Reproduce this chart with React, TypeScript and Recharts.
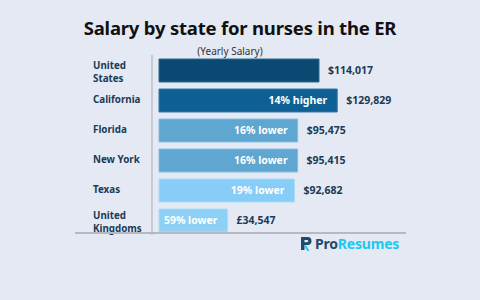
import React from "react";
import { BarChart, Bar, XAxis, YAxis, Cell, LabelList } from "recharts";

// ER nurse salary by state
const states = ["United States", "California", "Florida", "New York", "Texas", "United Kingdoms"];
const stateTickLines = [["United", "States"], ["California"], ["Florida"], ["New York"], ["Texas"], ["United", "Kingdoms"]];
const salaries = [114017, 129829, 95475, 95415, 92682, 34547];
const salaryLabels = ["$114,017", "$129,829", "$95,475", "$95,415", "$92,682", "£34,547"];
const comparisons = ["", "14% higher", "16% lower", "16% lower", "19% lower", "59% lower"];
const barColors = ["#0a4a72", "#0d5f94", "#5fa6d1", "#5fa6d1", "#88cdf8", "#8dd0f5"];
const barStrokes = ["#2f6a90", "#3479aa", "#86bde0", "#86bde0", "#a9dbfa", "#acdcf8"];

// bars are drawn from a common floor below zero so short bars still hold their label
const axisFloor = -25000;
const axisCeil = 167000;

const chartData = states.map((state, i) => ({
  state,
  salary: salaries[i],
  salaryLabel: salaryLabels[i],
  comparison: comparisons[i],
}));

const FONT = "'Noto Sans', 'Open Sans', sans-serif";
const NAVY = "#1b3a57";

const StateTick = (props: any) => {
  const { y, payload } = props;
  const lines = stateTickLines[payload.index] || [payload.value];
  const lineH = 13;
  const startY = y - ((lines.length - 1) * lineH) / 2 + (lines.length > 1 ? 2 : 0);
  return (
    <text x={93} y={startY} fill={NAVY} fontSize={9.8} fontWeight={700} fontFamily={FONT} textAnchor="start">
      {lines.map((l: string, i: number) => (
        <tspan key={l} x={93} y={startY + i * lineH} dy="0.35em">
          {l}
        </tspan>
      ))}
    </text>
  );
};

// percentage text sits inside the bar, right aligned
const InsideLabel = (props: any) => {
  const { x, y, width, height, value } = props;
  if (!value) return null;
  return (
    <text
      x={x + width - 10}
      y={y + height / 2}
      dy="0.35em"
      textAnchor="end"
      fill="#ffffff"
      fontSize={10.5}
      fontWeight={700}
      fontFamily={FONT}
    >
      {value}
    </text>
  );
};

const ValueLabel = (props: any) => {
  const { x, y, width, height, value } = props;
  return (
    <text
      x={x + width + 9}
      y={y + height / 2}
      dy="0.35em"
      textAnchor="start"
      fill={NAVY}
      fontSize={10.5}
      fontWeight={700}
      fontFamily={FONT}
    >
      {value}
    </text>
  );
};

const Logo = () => (
  <div style={{ position: "absolute", left: 300, top: 234, display: "flex", alignItems: "center" }}>
    <svg width={14} height={18} viewBox="0 0 14 18">
      <path d="M1 2 H7.5 A4 4 0 0 1 7.5 10 H4.5 V15 H1 Z M4.5 5 V7.2 H7.2 A1.1 1.1 0 0 0 7.2 5 Z" fill="#1d4a6e" />
      <path d="M6 10 L9.5 16 L7.2 16 L4.6 11.5 Z" fill="#1ec8f0" />
    </svg>
    <span style={{ fontFamily: FONT, fontWeight: 700, fontSize: 14, letterSpacing: -0.2, marginLeft: 1 }}>
      <span style={{ color: "#1d4a6e" }}>Pro</span>
      <span style={{ color: "#1ec8f0" }}>Resumes</span>
    </span>
  </div>
);

export default function App() {
  return (
    <div style={{ position: "absolute", left: 0, top: 0, width: 480, height: 300, background: "#e4e9f3", overflow: "hidden" }}>
      <div
        style={{
          position: "absolute",
          top: 15,
          width: 480,
          textAlign: "center",
          fontFamily: FONT,
          fontWeight: 700,
          fontSize: 18.5,
          color: "#111",
          letterSpacing: -0.2,
        }}
      >
        Salary by state for nurses in the ER
      </div>
      <div
        style={{
          position: "absolute",
          top: 44,
          left: 190,
          width: 80,
          textAlign: "center",
          fontFamily: FONT,
          fontSize: 10,
          color: "#333",
        }}
      >
        (Yearly Salary)
      </div>
      <BarChart
        width={480}
        height={300}
        data={chartData}
        layout="vertical"
        margin={{ top: 55, right: 100, bottom: 65, left: 0 }}
        barSize={23}
      >
        <XAxis type="number" hide domain={[axisFloor, axisCeil]} padding={{ left: 7, right: 0 }} />
        <YAxis
          type="category"
          dataKey="state"
          width={152}
          axisLine={{ stroke: "#b3b7bf", strokeWidth: 1.2 }}
          tickLine={false}
          tick={<StateTick />}
          interval={0}
        />
        <Bar dataKey={(d: any) => [axisFloor, d.salary]} isAnimationActive={false}>
          {chartData.map((d, i) => (
            <Cell key={d.state} fill={barColors[i]} stroke={barStrokes[i]} strokeWidth={1} />
          ))}
          <LabelList dataKey="comparison" content={<InsideLabel />} />
          <LabelList dataKey="salaryLabel" content={<ValueLabel />} />
        </Bar>
      </BarChart>
      <div style={{ position: "absolute", left: 75, top: 232, width: 331, height: 1.5, background: "#b6b9c0" }} />
      <Logo />
    </div>
  );
}
